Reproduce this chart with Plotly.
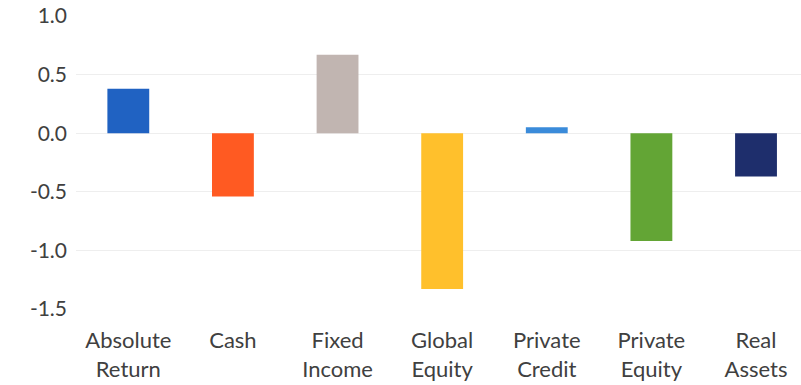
import plotly.graph_objects as go

categories = ["Absolute Return", "Cash", "Fixed Income", "Global Equity",
              "Private Credit", "Private Equity", "Real Assets"]
values = [0.38, -0.54, 0.67, -1.33, 0.05, -0.92, -0.37]
colors = ["#2062C2", "#FF5A22", "#C1B5B1", "#FFC02C",
          "#3A8BDA", "#63A535", "#1E2E6C"]
tick_labels = ["Absolute<br>Return", "Cash", "Fixed<br>Income", "Global<br>Equity",
               "Private<br>Credit", "Private<br>Equity", "Real<br>Assets"]
y_ticks = [1.0, 0.5, 0.0, -0.5, -1.0, -1.5]

fig = go.Figure(go.Bar(
    x=categories,
    y=values,
    marker=dict(color=colors, line=dict(width=0)),
    width=0.4,
))

fig.update_layout(
    width=801, height=385,
    margin=dict(l=76, r=0, t=16, b=76),
    paper_bgcolor="white", plot_bgcolor="white",
    font=dict(family="Lato", size=21, color="#404040"),
    showlegend=False,
    bargap=0.6,
)
fig.update_xaxes(
    tickmode="array", tickvals=categories, ticktext=tick_labels,
    tickfont=dict(size=22),
    range=[-0.5, 6.43],
    showgrid=False, showline=False, zeroline=False,
    ticks="", ticklabelstandoff=16,
)
fig.update_yaxes(
    range=[-1.5, 1.0],
    tickmode="array", tickvals=y_ticks,
    ticktext=[f"{v:.1f}" for v in y_ticks],
    showgrid=True, gridcolor="#EEEEEE", gridwidth=1,
    zeroline=True, zerolinecolor="#EEEEEE", zerolinewidth=1,
    showline=False, ticks="", ticklabelstandoff=8,
)

fig.write_html("out.html")
